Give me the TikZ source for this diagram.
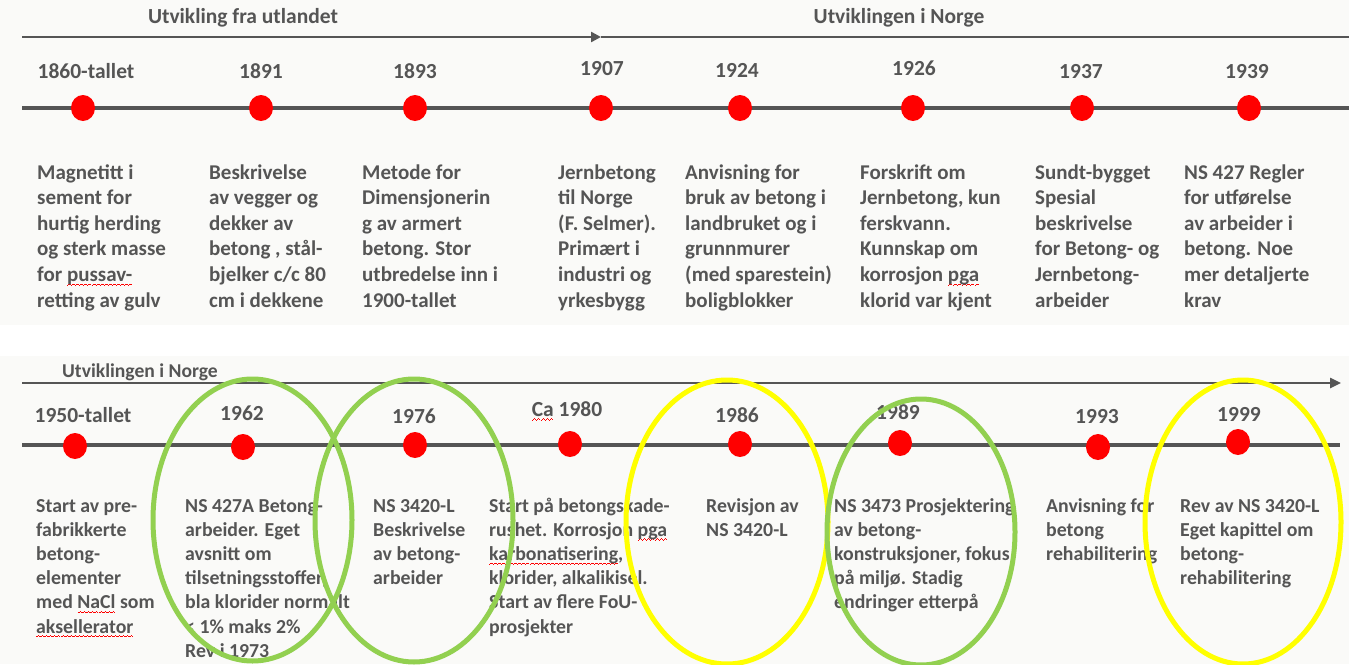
\documentclass[tikz,border=0pt]{standalone}
\usepackage{fontspec}
\setmainfont{Carlito}
\usetikzlibrary{arrows.meta,shapes.geometric}
\definecolor{txt}{HTML}{555555}
\definecolor{ln}{HTML}{555555}
\definecolor{grn}{HTML}{92D050}
\definecolor{ylw}{HTML}{FFFF00}
\definecolor{panel}{HTML}{FAFAF8}
\newsavebox\wvbox
\newcommand\wvunit{\hbox{\textcolor{red}{\rule[-3.9pt]{1pt}{0.7pt}\rule[-3.3pt]{1pt}{0.7pt}\rule[-2.7pt]{1pt}{0.7pt}\rule[-3.3pt]{1pt}{0.7pt}}}}
\newcommand\redwave[1]{\leavevmode\sbox\wvbox{#1}\rlap{\hbox to\wd\wvbox{\xleaders\wvunit\hfill}}\usebox\wvbox}
\tikzset{
  body/.style={anchor=north west, inner sep=0pt, align=left, text=txt,
    font=\fontsize{21}{25.6}\selectfont\bfseries},
  bodyb/.style={body, font=\fontsize{19.8}{24.2}\selectfont\bfseries},
  yr/.style={inner sep=0pt, text=txt, font=\fontsize{21.5}{25}\selectfont\bfseries},
  hdr/.style={inner sep=0pt, text=txt, font=\fontsize{21.5}{25}\selectfont\bfseries},
  dot/.style={ellipse, fill=red, draw=none, minimum width=24pt, minimum height=26pt, inner sep=0pt},
  axis/.style={ln, line width=2.4pt},
  tline/.style={ln, line width=4pt},
  ring/.style={line width=5pt},
}
\begin{document}
\begin{tikzpicture}[x=1pt,y=-1pt]
\useasboundingbox (0,0) rectangle (1349,664);
\fill[panel] (0,0) rectangle (1349,325);
\fill[panel] (0,356) rectangle (1349,664);

% ---------- top panel ----------
\node[hdr] (h1) at (243,18) {Utvikling fra utlandet};
\node[hdr] (h2) at (899,18) {Utviklingen i Norge};
\coordinate (a0) at (22,37);
\coordinate (am) at (601,37);
\coordinate (a1) at (1349,37);
\draw[axis,-{Triangle[length=10pt,width=10pt]}] (a0) -- (am);
\draw[axis] (am) -- (a1);

\coordinate (t0) at (22,108);
\coordinate (t1) at (1349,108);
\draw[tline] (t0) -- (t1);

\node[dot] (d1) at (83,108) {};
\node[dot] (d2) at (261,108) {};
\node[dot] (d3) at (415,108) {};
\node[dot] (d4) at (601,108) {};
\node[dot] (d5) at (740,108) {};
\node[dot] (d6) at (913,108) {};
\node[dot] (d7) at (1082,108) {};
\node[dot] (d8) at (1249,108) {};

\node[yr] (y1) at (86,71) {1860-tallet};
\node[yr] (y2) at (261,71) {1891};
\node[yr] (y3) at (415,71) {1893};
\node[yr] (y4) at (602,69) {1907};
\node[yr] (y5) at (737,70) {1924};
\node[yr] (y6) at (914,68) {1926};
\node[yr] (y7) at (1081,72) {1937};
\node[yr] (y8) at (1247,72) {1939};

\node[body] (x1) at (37,161) {\strut Magnetitt i\\sement for\\hurtig herding\\og sterk masse\\for \redwave{pussav-}\\retting av gulv};
\node[body] (x2) at (209,161) {\strut Beskrivelse\\av vegger og\\dekker av\\betong , stål-\\bjelker c/c 80\\cm i dekkene};
\node[body] (x3) at (362,161) {\strut Metode for\\Dimensjonerin\\g av armert\\betong. Stor\\utbredelse inn i\\1900-tallet};
\node[body] (x4) at (558,161) {\strut Jernbetong\\til Norge\\(F. Selmer).\\Primært i\\industri og\\yrkesbygg};
\node[body] (x5) at (685,161) {\strut Anvisning for\\bruk av betong i\\landbruket og i\\grunnmurer\\(med sparestein)\\boligblokker};
\node[body] (x6) at (860,161) {\strut Forskrift om\\Jernbetong, kun\\ferskvann.\\Kunnskap om\\korrosjon \redwave{pga}\\klorid var kjent};
\node[body] (x7) at (1035,161) {\strut Sundt-bygget\\Spesial\\beskrivelse\\for Betong- og\\Jernbetong-\\arbeider};
\node[body] (x8) at (1184,161) {\strut NS 427 Regler\\for utførelse\\av arbeider i\\betong. Noe\\mer detaljerte\\krav};

% ---------- bottom panel ----------
\node[hdr, anchor=west, font=\fontsize{19.6}{24}\selectfont\bfseries] (h3) at (62,372) {Utviklingen i Norge};
\coordinate (b0) at (22,383);
\coordinate (b1) at (1341,383);
\draw[axis,-{Triangle[length=11pt,width=10pt]}] (b0) -- (b1);

\coordinate (u0) at (22,445);
\coordinate (u1) at (1340,445);
\draw[tline] (u0) -- (u1);

\node[dot] (e1) at (75,446) {};
\node[dot] (e2) at (243,447) {};
\node[dot] (e3) at (415,445) {};
\node[dot] (e4) at (570,444) {};
\node[dot] (e5) at (740,444) {};
\node[dot] (e6) at (900,443) {};
\node[dot] (e7) at (1098,447) {};
\node[dot] (e8) at (1238,442) {};

\node[yr] (z1) at (83,415) {1950-tallet};
\node[yr] (z2) at (242,413) {1962};
\node[yr] (z3) at (414,416) {1976};
\node[yr] (z4) at (567,411) {\redwave{Ca} 1980};
\node[yr] (z5) at (737,415) {1986};
\node[yr] (z6) at (898,412) {1989};
\node[yr] (z7) at (1097,417) {1993};
\node[yr] (z8) at (1239,414) {1999};

\node[bodyb] (w1) at (36,495) {\strut Start av pre-\\fabrikkerte\\betong-\\elementer\\med \redwave{NaCl} som\\\redwave{aksellerator}};
\node[bodyb] (w2) at (185,495) {\strut NS 427A Betong-\\arbeider. Eget\\avsnitt om\\tilsetningsstoffer,\\bla klorider normalt\\< 1\% maks 2\%\\Rev i 1973};
\node[bodyb] (w3) at (373,495) {\strut NS 3420-L\\Beskrivelse\\av betong-\\arbeider};
\node[bodyb] (w4) at (489,495) {\strut Start på betongskade-\\rushet. Korrosjon \redwave{pga}\\\redwave{karbonatisering},\\klorider, alkalikisel.\\Start av flere FoU-\\prosjekter};
\node[bodyb] (w5) at (706,495) {\strut Revisjon av\\NS 3420-L};
\node[bodyb] (w6) at (834,495) {\strut NS 3473 Prosjektering\\av betong-\\konstruksjoner, fokus\\på miljø. Stadig\\endringer etterpå};
\node[bodyb] (w7) at (1046,495) {\strut Anvisning for\\betong\\rehabilitering};
\node[bodyb] (w8) at (1180,495) {\strut Rev av NS 3420-L\\Eget kapittel om\\betong-\\rehabilitering};

% ---------- highlight rings ----------
\draw[ring, grn] (252.5,520) ellipse [x radius=99.5, y radius=141];
\draw[ring, grn] (414,520.5) ellipse [x radius=99, y radius=141.5];
\draw[ring, ylw] (727,522) ellipse [x radius=101, y radius=142];
\draw[ring, grn] (921,532) ellipse [x radius=94, y radius=133];
\draw[ring, ylw] (1243,522) ellipse [x radius=98, y radius=142];
\end{tikzpicture}
\end{document}
